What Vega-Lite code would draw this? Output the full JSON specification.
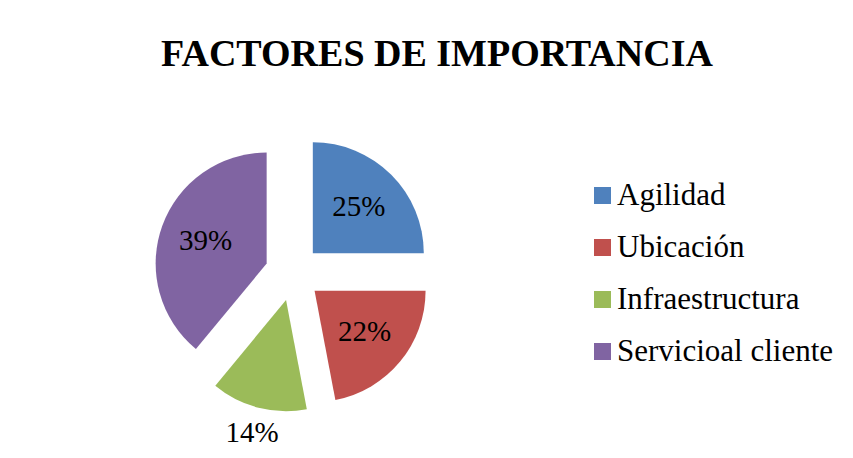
{
  "$schema": "https://vega.github.io/schema/vega-lite/v6.json",
  "width": 586,
  "height": 370,
  "autosize": {"type": "none"},
  "padding": {"left": 0, "top": 88, "right": 267, "bottom": 0},
  "background": "white",
  "config": {"view": {"stroke": null}},
  "title": {
    "text": "FACTORES DE IMPORTANCIA",
    "font": "Liberation Serif",
    "fontSize": 38,
    "fontWeight": "bold",
    "color": "black",
    "anchor": "middle",
    "frame": "group",
    "dx": 144,
    "offset": 14
  },
  "data": {
    "values": [
      {"factor": "Agilidad", "porcentaje": 0.25, "orden": 1},
      {"factor": "Ubicación", "porcentaje": 0.22, "orden": 2},
      {"factor": "Infraestructura", "porcentaje": 0.14, "orden": 3},
      {"factor": "Servicioal cliente", "porcentaje": 0.39, "orden": 4}
    ]
  },
  "encoding": {
    "theta": {"field": "porcentaje", "type": "quantitative", "stack": true},
    "order": {"field": "orden", "type": "quantitative"}
  },
  "layer": [
    {
      "mark": {
        "type": "arc",
        "outerRadius": 111,
        "xOffset": {"expr": "28*sin(PI*(datum.porcentaje_start+datum.porcentaje_end))"},
        "yOffset": {"expr": "-28*cos(PI*(datum.porcentaje_start+datum.porcentaje_end))"}
      },
      "encoding": {
        "color": {
          "field": "factor",
          "type": "nominal",
          "scale": {
            "domain": ["Agilidad", "Ubicación", "Infraestructura", "Servicioal cliente"],
            "range": ["#4F81BD", "#C0504D", "#9BBB59", "#8064A2"]
          },
          "legend": {
            "title": null,
            "orient": "none",
            "legendX": 587,
            "legendY": 92,
            "padding": 0,
            "symbolType": "square",
            "symbolSize": 289,
            "symbolStrokeWidth": 0,
            "symbolOpacity": 1,
            "labelFont": "Liberation Serif",
            "labelFontSize": 31,
            "labelColor": "black",
            "labelOffset": -1,
            "labelLimit": 400,
            "rowPadding": 20
          }
        }
      }
    },
    {
      "mark": {
        "type": "text",
        "radius": {"expr": "datum.porcentaje < 0.2 ? 165 : 93"},
        "font": "Liberation Serif",
        "fontSize": 29,
        "color": "black",
        "baseline": "middle",
        "align": "center"
      },
      "encoding": {
        "text": {"field": "porcentaje", "type": "quantitative", "format": ".0%"}
      }
    }
  ]
}
